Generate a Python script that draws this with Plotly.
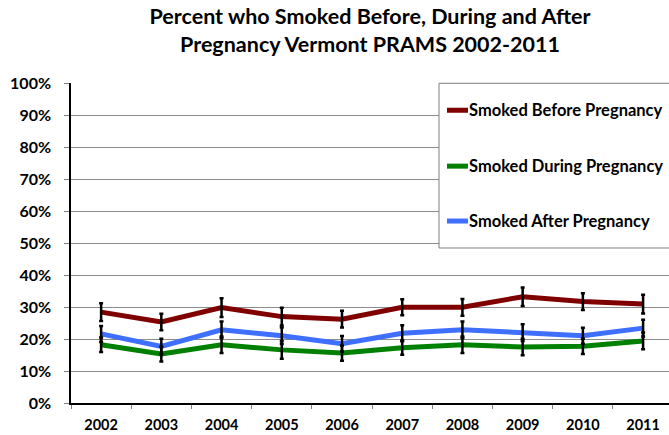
import plotly.graph_objects as go

years = ["2002", "2003", "2004", "2005", "2006", "2007", "2008", "2009", "2010", "2011"]
before = [28.4, 25.3, 29.8, 27.0, 26.2, 29.9, 29.9, 33.2, 31.7, 30.9]
during = [18.2, 15.3, 18.2, 16.6, 15.6, 17.3, 18.2, 17.5, 17.7, 19.4]
after = [21.6, 17.7, 22.9, 21.0, 18.5, 21.8, 22.9, 22.0, 21.0, 23.4]
err_before = [2.8, 2.6, 2.9, 2.8, 2.6, 2.5, 2.6, 2.9, 2.6, 2.9]
err_during = [2.3, 2.3, 2.6, 2.8, 2.4, 2.2, 2.6, 2.6, 2.4, 2.6]
err_after = [2.5, 2.4, 2.6, 2.6, 2.4, 2.5, 2.6, 2.6, 2.5, 2.6]
y_ticks = [0, 10, 20, 30, 40, 50, 60, 70, 80, 90, 100]
y_labels = [f"{v}%" for v in y_ticks]

series = [
    ("Smoked Before Pregnancy", before, err_before, "#800000"),
    ("Smoked During Pregnancy", during, err_during, "#008000"),
    ("Smoked After Pregnancy", after, err_after, "#3F6FFF"),
]

FONT = "Lato"
fig = go.Figure()
for name, vals, errs, col in series:
    fig.add_trace(go.Scatter(x=years, y=vals, mode="lines", name=name,
                             line=dict(color=col, width=5), showlegend=False))
for name, vals, errs, col in series:
    fig.add_trace(go.Scatter(x=years, y=vals, mode="markers", showlegend=False,
                             marker=dict(size=1, color="rgba(0,0,0,0)"),
                             error_y=dict(type="data", array=errs, visible=True,
                                          color="black", thickness=2.5, width=2),
                             hoverinfo="skip"))

# legend box
PW, PH, PL, PB = 598, 320.6, 71, 403.3
fig.add_shape(type="rect", xref="paper", yref="paper", x0=(439 - PL) / PW, x1=1.05,
              y0=(PB - 248) / PH, y1=(PB - 83) / PH,
              line=dict(color="#7f7f7f", width=1), fillcolor="white", layer="above")
leg_y = [110, 166, 221]
for (name, vals, errs, col), yy in zip(series, leg_y):
    yp = (PB - yy) / PH
    fig.add_shape(type="line", xref="paper", yref="paper",
                  x0=(447 - PL) / PW, x1=(468 - PL) / PW, y0=yp, y1=yp,
                  line=dict(color=col, width=5), layer="above")
    fig.add_annotation(text=name, xref="paper", yref="paper", x=(467 - PL) / PW, y=yp,
                       xanchor="left", yanchor="middle", showarrow=False,
                       font=dict(family=FONT, size=16.5, color="black", weight="bold"))

fig.update_layout(
    width=669, height=435,
    margin=dict(l=71, r=0, t=83, b=32),
    paper_bgcolor="white", plot_bgcolor="white",
    title=dict(text="Percent who Smoked Before, During and After<br>Pregnancy Vermont PRAMS 2002-2011",
               x=0.5, xref="paper", xanchor="center", y=0.945, yanchor="top",
               font=dict(family=FONT, size=21.5, color="black", weight="bold")),
    xaxis=dict(type="category", range=[-0.5, 9.43], tickson="boundaries",
               ticks="outside", ticklen=4, tickcolor="#7f7f7f", showgrid=False,
               showline=True, linecolor="black", linewidth=1.5, ticklabelstandoff=8,
               tickfont=dict(family=FONT, size=14.5, color="black", weight="bold")),
    yaxis=dict(range=[0, 100], tickmode="array", tickvals=y_ticks, ticktext=y_labels,
               ticks="outside", ticklen=5, tickcolor="#7f7f7f", ticklabelstandoff=10,
               showgrid=True, gridcolor="#8c8c8c", gridwidth=1,
               showline=True, linecolor="black", linewidth=1.5, zeroline=False,
               tickfont=dict(family=FONT, size=16, color="black", weight="bold")),
)
fig.write_html("out.html", config={"displayModeBar": False},
               post_script="document.body.style.margin='0px';")
